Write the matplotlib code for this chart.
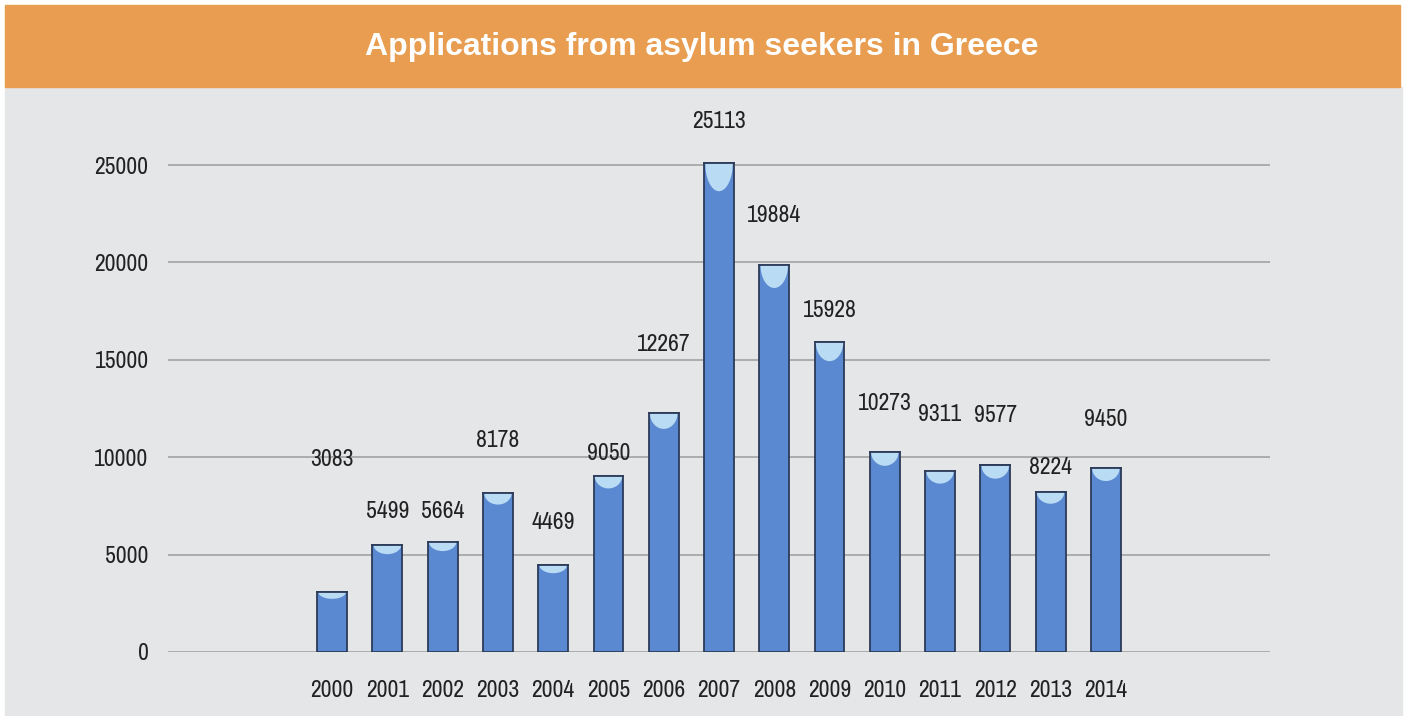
import numpy as np
import matplotlib.pyplot as plt
from matplotlib.patches import Polygon, Rectangle

years = ['2000', '2001', '2002', '2003', '2004', '2005', '2006', '2007',
         '2008', '2009', '2010', '2011', '2012', '2013', '2014']
applications = [3083, 5499, 5664, 8178, 4469, 9050, 12267, 25113,
                19884, 15928, 10273, 9311, 9577, 8224, 9450]
# how far (px) each value label sits above its bar
label_lift = [132, 33, 30, 52, 42, 22, 69, 41, 49, 31, 48, 56, 50, 24, 48]

narrow = ['Archivo Narrow', 'Roboto Condensed', 'DejaVu Sans']
bar_col = '#5b89d1'
cap_col = '#b9dbf4'

fig = plt.figure(figsize=(14.04, 7.16), dpi=100)
fig.patch.set_facecolor('white')

# grey panel and orange banner
fig.add_artist(Rectangle((5 / 1404, 0.002), 1397 / 1404, (716 - 87) / 716 - 0.002,
                         transform=fig.transFigure, color='#e5e6e8', zorder=-2))
fig.add_artist(Rectangle((5 / 1404, (716 - 87) / 716), 1395 / 1404, 82 / 716,
                         transform=fig.transFigure, color='#e89d51', zorder=-1))
fig.text(0.5, (716 - 47) / 716, 'Applications from asylum seekers in Greece',
         ha='center', va='center', color='white', fontsize=23,
         fontweight='bold', family=['Liberation Sans', 'DejaVu Sans'])

ax = fig.add_axes([168 / 1404, 64 / 716, 1102 / 1404, 545.4 / 716])
ax.set_facecolor('none')
x = np.arange(len(years))
w = 0.54
bars = ax.bar(x, applications, width=w, color=bar_col, edgecolor='#2c3b58',
              linewidth=1.3, zorder=3)

# light meniscus hanging from the top of every bar
for xi, v in zip(x, applications):
    depth = 0.05 * v + 200
    t = np.linspace(-1, 1, 60)
    half = w / 2 - 0.02
    xs = xi + half * t
    ys = v - depth * np.sqrt(1 - t ** 2)
    ax.add_patch(Polygon(np.column_stack([xs, ys]), closed=True,
                         facecolor=cap_col, edgecolor='none', zorder=4))
    ax.plot([xi - w / 2, xi + w / 2], [v, v], color='#2c3b58', lw=1.3, zorder=5)

for xi, v, lift in zip(x, applications, label_lift):
    ax.annotate(str(v), (xi, v), xytext=(0, lift * 0.72), textcoords='offset points',
                ha='center', va='center', fontsize=17, color='#222222',
                family=narrow, annotation_clip=False)

ax.set_xlim(-2.97, len(years) - 1 + 2.97)
ax.set_ylim(0, 28000)
ax.set_yticks(range(0, 25001, 5000))
ax.set_xticks(x)
ax.set_xticklabels(years)
ax.yaxis.grid(True, color='#9c9c9c', linewidth=1.1, zorder=0)
ax.set_axisbelow(True)
for s in ax.spines.values():
    s.set_visible(False)
ax.tick_params(length=0, labelsize=17, labelcolor='#222222')
ax.tick_params(axis='y', pad=14)
ax.tick_params(axis='x', pad=20)
for lab in ax.get_xticklabels() + ax.get_yticklabels():
    lab.set_family(narrow)

fig.savefig('out.png', dpi=100)
